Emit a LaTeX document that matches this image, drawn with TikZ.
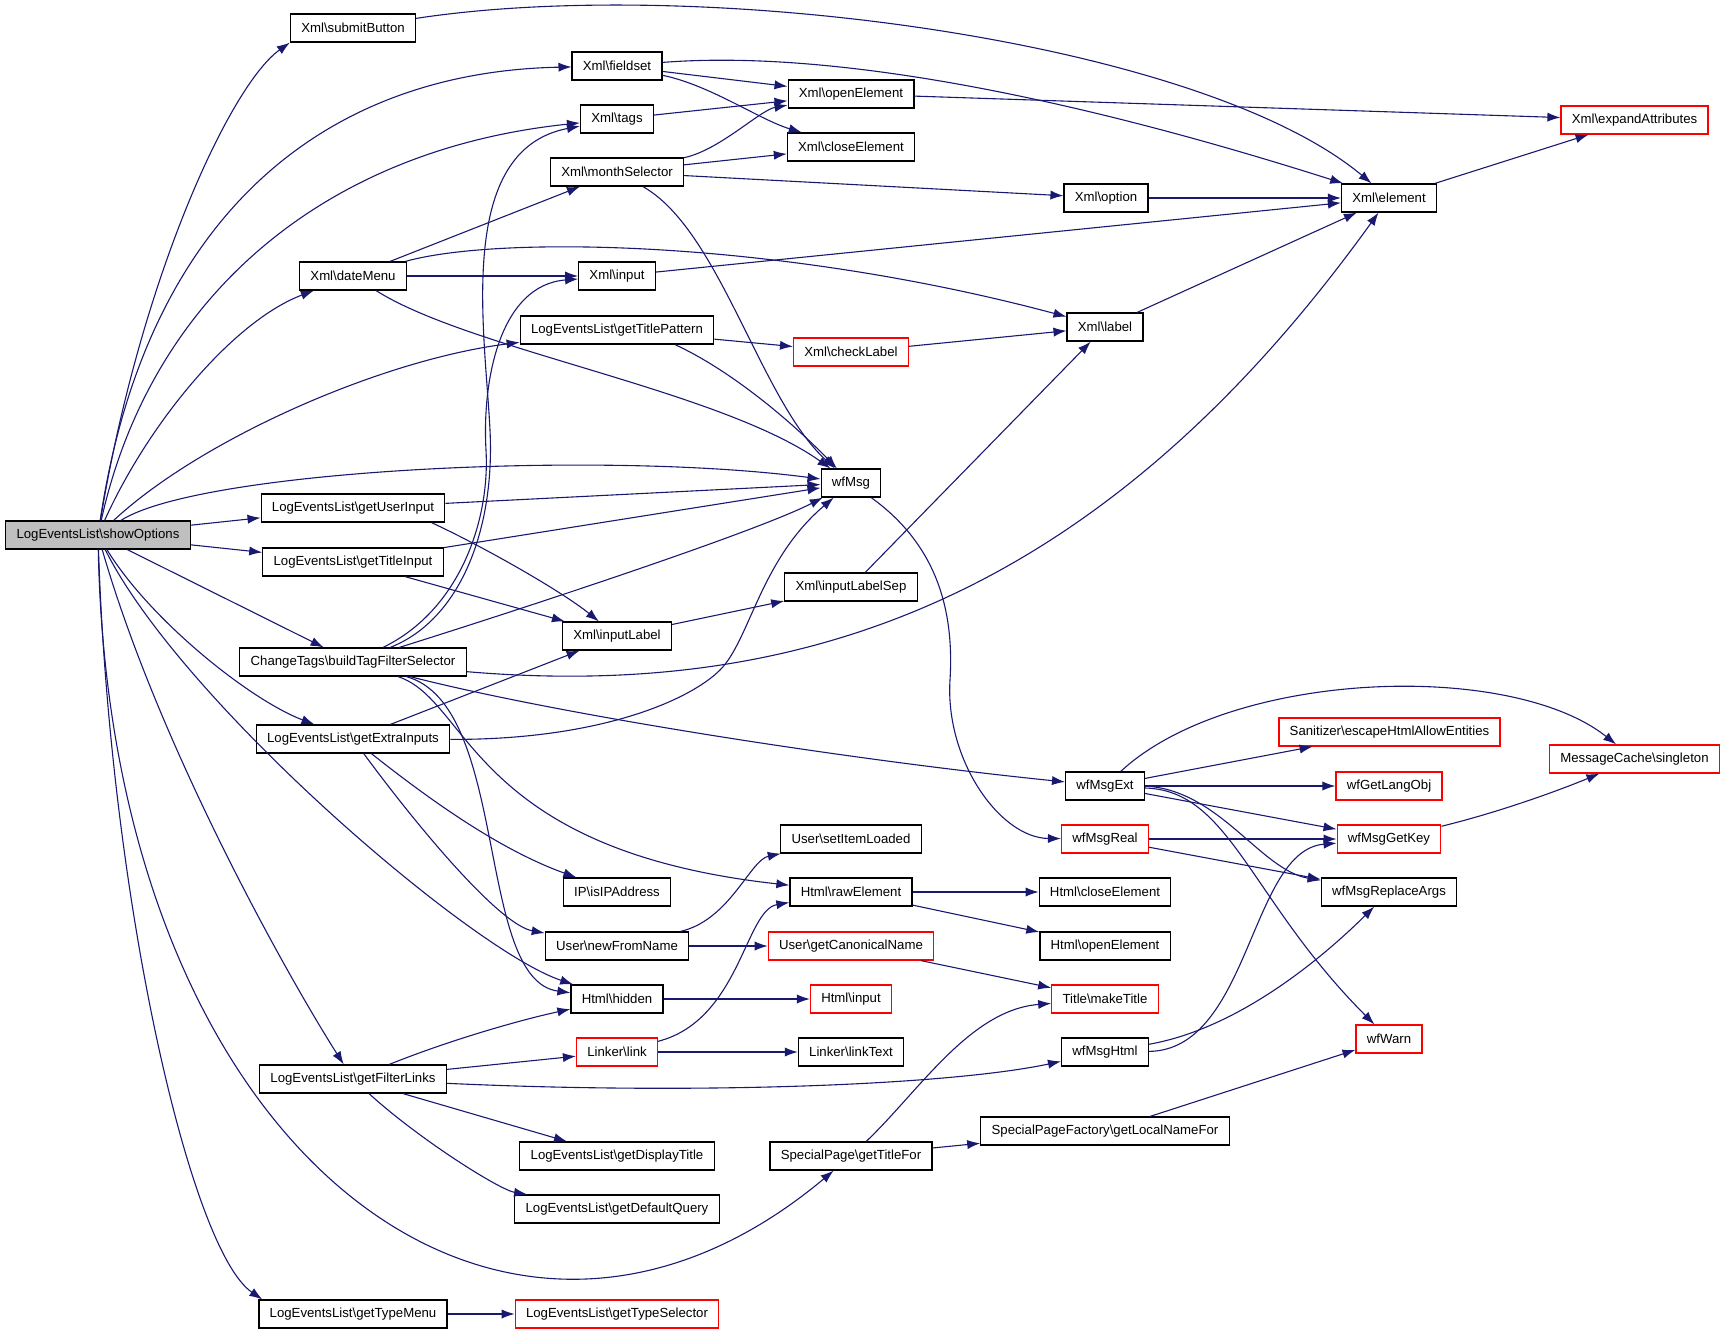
\documentclass[tikz,border=0pt]{standalone}
\usepackage{fontspec}
\setmainfont{Liberation Sans}
\usepackage{tikz}
\usetikzlibrary{arrows.meta}
\newcommand{\bsl}{\textbackslash}
\definecolor{callblue}{HTML}{191970}
\definecolor{rootgray}{HTML}{BFBFBF}
\tikzset{
  fn/.style={draw=black, line width=0.6pt, fill=white, font=\fontsize{6.6pt}{7pt}\selectfont,
    inner xsep=5.4pt, inner ysep=0pt, minimum height=14pt},
  fnred/.style={fn, draw=red},
  fnroot/.style={fn, fill=rootgray},
  call/.style={draw=callblue, line width=0.55pt, -{Latex[length=6.5pt,width=4.6pt]}}
}

\begin{document}
\begin{tikzpicture}[x=0.5pt,y=-0.5pt]
   \useasboundingbox (0,0) rectangle (1725,1334);
   \node[fnroot] (showOptions) at (98,535) {LogEventsList\bsl showOptions};
   \node[fn] (submitButton) at (353,28) {Xml\bsl submitButton};
   \node[fn] (dateMenu) at (353,276) {Xml\bsl dateMenu};
   \node[fn] (userInput) at (353,508) {LogEventsList\bsl getUserInput};
   \node[fn] (titleInput) at (353,562) {LogEventsList\bsl getTitleInput};
   \node[fn] (tagFilter) at (353,662) {ChangeTags\bsl buildTagFilterSelector};
   \node[fn] (extraInputs) at (353,739) {LogEventsList\bsl getExtraInputs};
   \node[fn] (filterLinks) at (353,1079) {LogEventsList\bsl getFilterLinks};
   \node[fn] (typeMenu) at (353,1314) {LogEventsList\bsl getTypeMenu};

   \node[fn] (fieldset) at (617,66) {Xml\bsl fieldset};
   \node[fn] (tags) at (617,119) {Xml\bsl tags};
   \node[fn] (monthSel) at (617,172) {Xml\bsl monthSelector};
   \node[fn] (xmlInput) at (617,276) {Xml\bsl input};
   \node[fn] (titlePattern) at (617,330) {LogEventsList\bsl getTitlePattern};
   \node[fn] (inputLabel) at (617,636) {Xml\bsl inputLabel};
   \node[fn] (ipAddr) at (617,892) {IP\bsl isIPAddress};
   \node[fn] (newFromName) at (617,946) {User\bsl newFromName};
   \node[fn] (hidden) at (617,999) {Html\bsl hidden};
   \node[fnred] (link) at (617,1052) {Linker\bsl link};
   \node[fn] (displayTitle) at (617,1156) {LogEventsList\bsl getDisplayTitle};
   \node[fn] (defaultQuery) at (617,1209) {LogEventsList\bsl getDefaultQuery};
   \node[fnred] (typeSelector) at (617,1314) {LogEventsList\bsl getTypeSelector};

   \node[fn] (openElem) at (851,94) {Xml\bsl openElement};
   \node[fn] (closeElem) at (851,147) {Xml\bsl closeElement};
   \node[fnred] (checkLabel) at (851,352) {Xml\bsl checkLabel};
   \node[fn] (wfMsg) at (851,483) {wfMsg};
   \node[fn] (inputLabelSep) at (851,587) {Xml\bsl inputLabelSep};
   \node[fn] (setItemLoaded) at (851,839) {User\bsl setItemLoaded};
   \node[fn] (rawElem) at (851,892) {Html\bsl rawElement};
   \node[fnred] (canonName) at (851,946) {User\bsl getCanonicalName};
   \node[fnred] (htmlInput) at (851,999) {Html\bsl input};
   \node[fn] (linkText) at (851,1052) {Linker\bsl linkText};
   \node[fn] (titleFor) at (851,1156) {SpecialPage\bsl getTitleFor};

   \node[fn] (option) at (1106,198) {Xml\bsl option};
   \node[fn] (xmlLabel) at (1105,327) {Xml\bsl label};
   \node[fn] (msgExt) at (1105,786) {wfMsgExt};
   \node[fnred] (msgReal) at (1105,839) {wfMsgReal};
   \node[fn] (htmlClose) at (1105,892) {Html\bsl closeElement};
   \node[fn] (htmlOpen) at (1105,946) {Html\bsl openElement};
   \node[fnred] (makeTitle) at (1105,999) {Title\bsl makeTitle};
   \node[fn] (msgHtml) at (1105,1052) {wfMsgHtml};
   \node[fn] (localName) at (1105,1131) {SpecialPageFactory\bsl getLocalNameFor};

   \node[fn] (xmlElement) at (1389,198) {Xml\bsl element};
   \node[fnred] (sanitizer) at (1389.5,732) {Sanitizer\bsl escapeHtmlAllowEntities};
   \node[fnred] (langObj) at (1389,786) {wfGetLangObj};
   \node[fnred] (msgGetKey) at (1389,839) {wfMsgGetKey};
   \node[fn] (replaceArgs) at (1389,892) {wfMsgReplaceArgs};
   \node[fnred] (wfWarn) at (1389,1039) {wfWarn};
   \node[fnred] (expandAttr) at (1634.5,120) {Xml\bsl expandAttributes};
   \node[fnred] (msgCache) at (1634.5,759) {MessageCache\bsl singleton};

   \draw[call] (showOptions) .. controls (140,280) and (230,85) .. (submitButton.south west);
   \draw[call] (showOptions) .. controls (145,220) and (320,72) .. (fieldset);
   \draw[call] (showOptions) .. controls (150,300) and (320,150) .. (tags);
   \draw[call] (showOptions) .. controls (150,420) and (235,320) .. (dateMenu);
   \draw[call] (showOptions) .. controls (200,440) and (380,360) .. (titlePattern);
   \draw[call] (showOptions) .. controls (200,470) and (600,450) .. (wfMsg);
   \draw[call] (showOptions) -- (userInput);
   \draw[call] (showOptions) -- (titleInput);
   \draw[call] (showOptions) -- (tagFilter);
   \draw[call] (showOptions) .. controls (150,620) and (250,700) .. (extraInputs);
   \draw[call] (showOptions) .. controls (180,700) and (470,950) .. (hidden);
   \draw[call] (showOptions) .. controls (160,750) and (290,980) .. (filterLinks);
   \draw[call] (showOptions) .. controls (110,1150) and (500,1450) .. (titleFor);
   \draw[call] (showOptions) .. controls (110,900) and (190,1250) .. ([xshift=2pt]typeMenu.north west);

   \draw[call] (submitButton) .. controls (700,-25) and (1200,40) .. (xmlElement);
   \draw[call] (fieldset) .. controls (820,50) and (1050,90) .. (xmlElement);
   \draw[call] (fieldset) -- (openElem);
   \draw[call] (fieldset) .. controls (710,85) and (760,120) .. (closeElem);
   \draw[call] (tags) -- (openElem);
   \draw[call] (monthSel) .. controls (720,150) and (760,110) .. (openElem);
   \draw[call] (monthSel) -- (closeElem);
   \draw[call] (monthSel) -- (option);
   \draw[call] (monthSel) .. controls (720,230) and (760,400) .. (wfMsg);
   \draw[call] (option) -- (xmlElement);
   \draw[call] (openElem) -- (expandAttr);
   \draw[call] (xmlElement) -- (expandAttr);

   \draw[call] (dateMenu) -- (monthSel);
   \draw[call] (dateMenu) -- (xmlInput);
   \draw[call] (dateMenu) .. controls (500,235) and (780,240) .. (xmlLabel);
   \draw[call] (dateMenu) .. controls (470,350) and (720,390) .. (wfMsg);
   \draw[call] (xmlInput) -- (xmlElement);
   \draw[call] (titlePattern) -- (checkLabel);
   \draw[call] ([xshift=29pt]titlePattern.south) .. controls (730,370) and (790,420) .. (wfMsg);
   \draw[call] (checkLabel) -- (xmlLabel);
   \draw[call] (xmlLabel) -- (xmlElement);
   \draw[call] (inputLabelSep) -- (xmlLabel);

   \draw[call] (userInput) -- (wfMsg);
   \draw[call] ([xshift=-7pt]userInput.south east) .. controls (480,545) and (560,590) .. (inputLabel);
   \draw[call] (titleInput) -- (wfMsg);
   \draw[call] (titleInput) -- (inputLabel);
   \draw[call] (inputLabel) -- (inputLabelSep);

   \draw[call] (tagFilter) .. controls (460,620) and (495,530) .. (490,430) .. controls (485,330) and (455,150) .. (tags);
   \draw[call] (tagFilter) .. controls (460,610) and (490,520) .. (486,450) .. controls (482,380) and (500,285) .. (xmlInput);
   \draw[call] (tagFilter) .. controls (550,600) and (760,530) .. (wfMsg);
   \draw[call] (tagFilter) .. controls (800,700) and (1100,600) .. (xmlElement);
   \draw[call] (tagFilter) .. controls (560,715) and (850,760) .. (msgExt);
   \draw[call] (tagFilter) .. controls (470,700) and (470,850) .. (rawElem);
   \draw[call] (tagFilter) .. controls (510,705) and (475,980) .. (hidden);

   \draw[call] (extraInputs) -- (inputLabel);
   \draw[call] (extraInputs) .. controls (600,740) and (690,700) .. (720,670) .. controls (750,640) and (760,560) .. (wfMsg);
   \draw[call] (extraInputs) .. controls (430,800) and (500,850) .. (ipAddr);
   \draw[call] (extraInputs) .. controls (420,830) and (500,925) .. (newFromName);
   \draw[call] (newFromName) .. controls (730,920) and (750,860) .. (setItemLoaded);
   \draw[call] (newFromName) -- (canonName);
   \draw[call] (canonName) -- (makeTitle);
   \draw[call] (hidden) -- (htmlInput);
   \draw[call] (link) .. controls (740,1020) and (745,910) .. (rawElem);
   \draw[call] (link) -- (linkText);
   \draw[call] (rawElem) -- (htmlClose);
   \draw[call] (rawElem) -- (htmlOpen);

   \draw[call] (filterLinks) .. controls (450,1040) and (520,1020) .. (hidden);
   \draw[call] (filterLinks) -- (link);
   \draw[call] (filterLinks) .. controls (700,1095) and (950,1085) .. (msgHtml);
   \draw[call] (filterLinks) -- (displayTitle);
   \draw[call] (filterLinks) .. controls (420,1140) and (500,1190) .. (defaultQuery);
   \draw[call] (typeMenu) -- (typeSelector);
   \draw[call] (titleFor) .. controls (920,1090) and (970,1010) .. (makeTitle);
   \draw[call] (titleFor) -- (localName);
   \draw[call] (localName) -- (wfWarn);

   \draw[call] (msgHtml) .. controls (1250,1050) and (1250,850) .. (msgGetKey);
   \draw[call] (msgHtml) .. controls (1230,1030) and (1310,970) .. (replaceArgs);
   \draw[call] (wfMsg) .. controls (930,540) and (955,600) .. (950,680) .. controls (945,760) and (1000,838) .. (msgReal);
   \draw[call] (msgReal) -- (msgGetKey);
   \draw[call] (msgReal) -- (replaceArgs);
   \draw[call] (msgExt) .. controls (1230,670) and (1510,660) .. (msgCache);
   \draw[call] (msgExt) -- (sanitizer);
   \draw[call] (msgExt) -- (langObj);
   \draw[call] (msgExt) -- (msgGetKey);
   \draw[call] (msgExt.east) .. controls (1220,790) and (1260,870) .. (replaceArgs);
   \draw[call] ([yshift=-1pt]msgExt.east) .. controls (1230,790) and (1250,900) .. (wfWarn);
   \draw[call] (msgGetKey) .. controls (1500,812) and (1560,790) .. (msgCache);
\end{tikzpicture}
\end{document}
